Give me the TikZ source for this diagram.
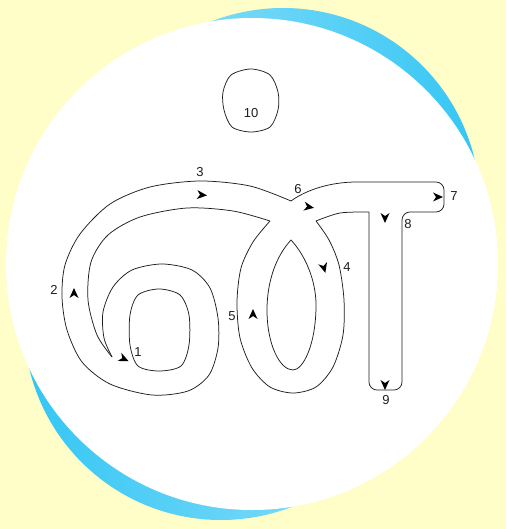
\documentclass[tikz,border=0pt]{standalone}
\usepackage{fontspec}
\setmainfont{Liberation Sans}
\usetikzlibrary{positioning}
\definecolor{fond}{HTML}{FFFDC8}
\definecolor{bleu}{HTML}{2EC4F4}
\definecolor{bleuclair}{HTML}{7CDAF8}
\definecolor{trait}{HTML}{1E1E1E}
\tikzset{
  contour/.style={draw=trait,line width=0.75pt,line join=round},
  chiffre/.style={font=\fontsize{13}{15}\selectfont,inner sep=0pt,text=trait},
  pointe/.style={fill=black},
}
\newcommand\tipmark[2]{\fill[pointe,shift={(#1)},rotate=#2] (5pt,0pt) -- (-5pt,4.5pt) -- (-2pt,0pt) -- (-5pt,-4.5pt) -- cycle;}

\begin{document}
\begin{tikzpicture}[x=1pt,y=-1pt]
  \useasboundingbox (0,0) rectangle (506,529);
  \fill[fond] (0,0) rectangle (506,529);
  % croissants bleus et disque blanc
  \begin{scope}
    \clip (283,205) circle[radius=197];
    \shade[left color=bleuclair,right color=bleu] (200,0) rectangle (506,300);
  \end{scope}
  \begin{scope}
    \clip (221,323) circle[radius=197];
    \shade[left color=bleu,right color=bleuclair] (0,250) rectangle (320,529);
  \end{scope}
  \fill[white] (252,264) circle[radius=246];
  % boucle gauche
  \draw[contour] plot[smooth] coordinates {(291,201) (250,186) (200,181) (150,187) (110,204) (80,234) (65,265) (62,297) (67,330) (82,362) (110,384) (152,395) (188,391) (209,375) (218,348) (218,318) (210,288) (192,270) (162,264) (132,270) (113,287) (103,312) (104,338) (112,357)};
  \draw[contour] plot[smooth] coordinates {(112,357) (97,335) (88,300) (91,262) (108,235) (140,217) (187,208) (233,211) (270,221)};
  \draw[contour] plot[smooth cycle] coordinates {(159,289) (180,295) (189,315) (189,345) (181,366) (159,371) (138,366) (130,345) (130,315) (138,295)};
  % boucle du milieu
  \draw[contour] plot[smooth] coordinates {(270,221) (253,242) (241,268) (237,302) (240,338) (252,368) (270,387) (293,393) (316,387) (333,367) (343,335) (344,300) (339,265) (329,240) (316,221)};
  \draw[contour] plot[smooth] coordinates {(316,221) (340,213) (369,212)};
  \draw[contour] (291,240) .. controls (305,255) and (316,280) .. (316,305) .. controls (316,345) and (303,370) .. (293,370) .. controls (280,370) and (267,345) .. (267,310) .. controls (267,280) and (277,255) .. (291,240) -- cycle;
  % barre et jambe
  \draw[contour,rounded corners=8pt] (369,212) -- (369,390) -- (402,390) -- (402,212) -- (444,212) -- (444,182) -- (357,182);
  \draw[contour] (357,182) .. controls (330,182) and (306,190) .. (291,201);
  % point
  \draw[contour] plot[smooth cycle] coordinates {(251,69) (270,75) (278,92) (278,110) (270,127) (251,132) (232,127) (224,110) (223,92) (231,75)};
  % chiffres
  \foreach \n/\pos in {1/{138,352},2/{54,290},3/{200,172},4/{347,267},5/{232,316},6/{298,189},7/{454,196},8/{408,224},9/{386,400},10/{251,113}}
    \node[chiffre] (n\n) at (\pos) {\n};
  % pointes
  \tipmark{124,359}{-25}
  \tipmark{74,293}{90}
  \tipmark{202,195}{-5}
  \tipmark{324,268}{-75}
  \tipmark{253,314}{90}
  \tipmark{309,207}{-10}
  \tipmark{438,197}{0}
  \tipmark{385,218}{-90}
  \tipmark{385,385}{-90}
\end{tikzpicture}
\end{document}
